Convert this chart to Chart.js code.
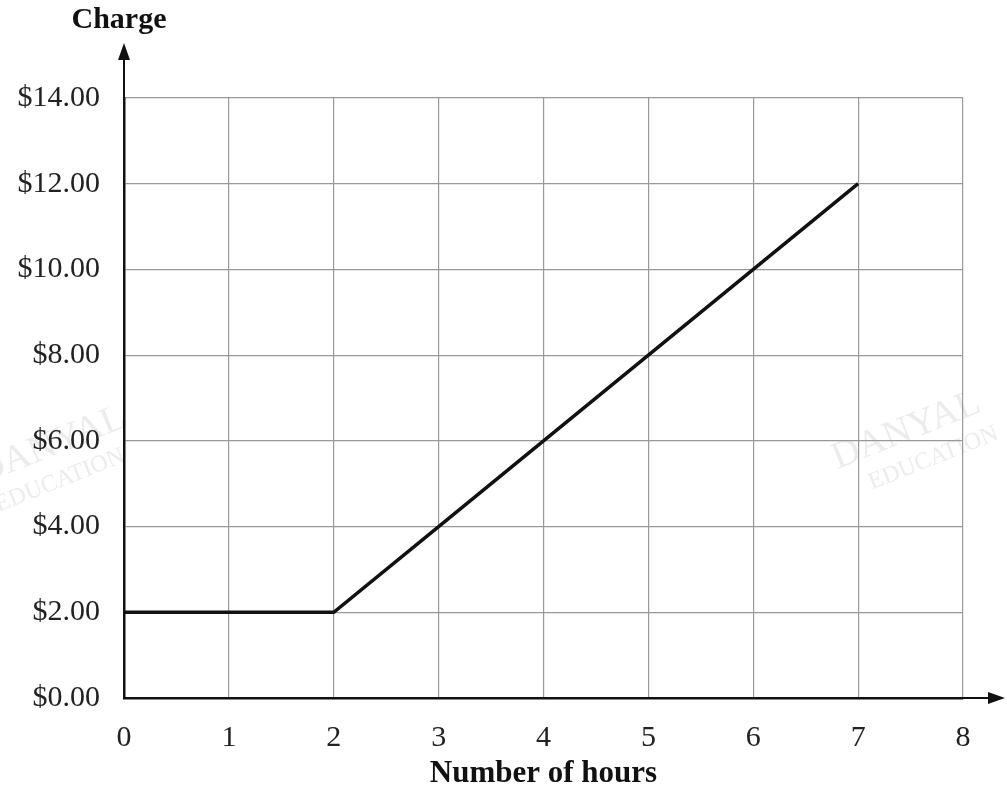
<!DOCTYPE html>
<html>
<head>
<meta charset="utf-8">
<script src="https://cdn.jsdelivr.net/npm/chart.js@4"></script>
<style>
  html, body { margin: 0; padding: 0; background: #fff; }
  #wrap { width: 1007px; height: 793px; position: relative; }
</style>
</head>
<body>
<div id="wrap"><canvas id="chargeChart" width="1007" height="793"></canvas></div>
<script>
// Data
var hours = [0, 1, 2, 3, 4, 5, 6, 7];
var charge = [2, 2, 2, 4, 6, 8, 10, 12];
var xTicks = [0, 1, 2, 3, 4, 5, 6, 7, 8];
var yTicks = [0, 2, 4, 6, 8, 10, 12, 14];

var serif = '"Liberation Serif", "Times New Roman", serif';

// Axis arrows, the "Charge" title and the faint watermark
var extras = {
    id: 'extras',
    beforeDraw: function(chart) {
        var c = chart.ctx;
        c.save();
        c.fillStyle = '#ececec';
        c.font = '38px ' + serif;
        c.textAlign = 'center';
        c.translate(55, 455);
        c.rotate(-0.38);
        c.fillText('DANYAL', 0, 0);
        c.font = '24px ' + serif;
        c.fillText('EDUCATION', -5, 32);
        c.restore();
        c.save();
        c.fillStyle = '#ececec';
        c.font = '38px ' + serif;
        c.textAlign = 'center';
        c.translate(910, 440);
        c.rotate(-0.38);
        c.fillText('DANYAL', 0, 0);
        c.font = '24px ' + serif;
        c.fillText('EDUCATION', 15, 32);
        c.restore();
    },
    afterDraw: function(chart) {
        var c = chart.ctx;
        var a = chart.chartArea;
        c.save();
        c.strokeStyle = '#111';
        c.fillStyle = '#111';
        c.lineWidth = 2;
        // y arrow
        c.beginPath();
        c.moveTo(a.left, a.top);
        c.lineTo(a.left, 58);
        c.stroke();
        c.beginPath();
        c.moveTo(a.left, 43);
        c.lineTo(a.left - 6, 60);
        c.lineTo(a.left + 6, 60);
        c.closePath();
        c.fill();
        // x arrow
        c.beginPath();
        c.moveTo(a.right, a.bottom);
        c.lineTo(990, a.bottom);
        c.stroke();
        c.beginPath();
        c.moveTo(1005, a.bottom);
        c.lineTo(988, a.bottom - 6);
        c.lineTo(988, a.bottom + 6);
        c.closePath();
        c.fill();
        // y title
        c.font = 'bold 30px ' + serif;
        c.textAlign = 'center';
        c.textBaseline = 'middle';
        c.fillText('Charge', 119, 20);
        c.restore();
    }
};

var ctx = document.getElementById('chargeChart').getContext('2d');

var chargeChart = new Chart(ctx, {
    type: 'line',
    data: {
        datasets: [{
            data: hours.map(function(h, i) { return { x: h, y: charge[i] }; }),
            borderColor: '#111',
            borderWidth: 3.5,
            pointRadius: 0,
            tension: 0
        }]
    },
    options: {
        responsive: false,
        animation: false,
        layout: { padding: { top: 98, right: 44, left: 0, bottom: 0 } },
        plugins: { legend: { display: false }, tooltip: { enabled: false } },
        scales: {
            x: {
                type: 'linear',
                min: 0,
                max: 8,
                afterFit: function(s) { s.height = 95; },
                afterBuildTicks: function(s) { s.ticks = xTicks.map(function(v) { return { value: v }; }); },
                grid: { color: '#999', lineWidth: 1.2, drawTicks: false },
                border: { color: '#111', width: 2.5 },
                ticks: {
                    color: '#222',
                    padding: 22,
                    font: { family: serif, size: 30 }
                },
                title: {
                    display: true,
                    text: 'Number of hours',
                    color: '#111',
                    font: { family: serif, size: 31, weight: 'bold' },
                    padding: { top: 0, bottom: 0 }
                }
            },
            y: {
                type: 'linear',
                min: 0,
                max: 14,
                afterFit: function(s) { s.width = 124; },
                afterBuildTicks: function(s) { s.ticks = yTicks.map(function(v) { return { value: v }; }); },
                grid: { color: '#999', lineWidth: 1.2, drawTicks: false },
                border: { color: '#111', width: 2.5 },
                ticks: {
                    color: '#222',
                    padding: 24,
                    font: { family: serif, size: 30 },
                    callback: function(v) { return '$' + v.toFixed(2); }
                }
            }
        }
    },
    plugins: [extras]
});
</script>
</body>
</html>
